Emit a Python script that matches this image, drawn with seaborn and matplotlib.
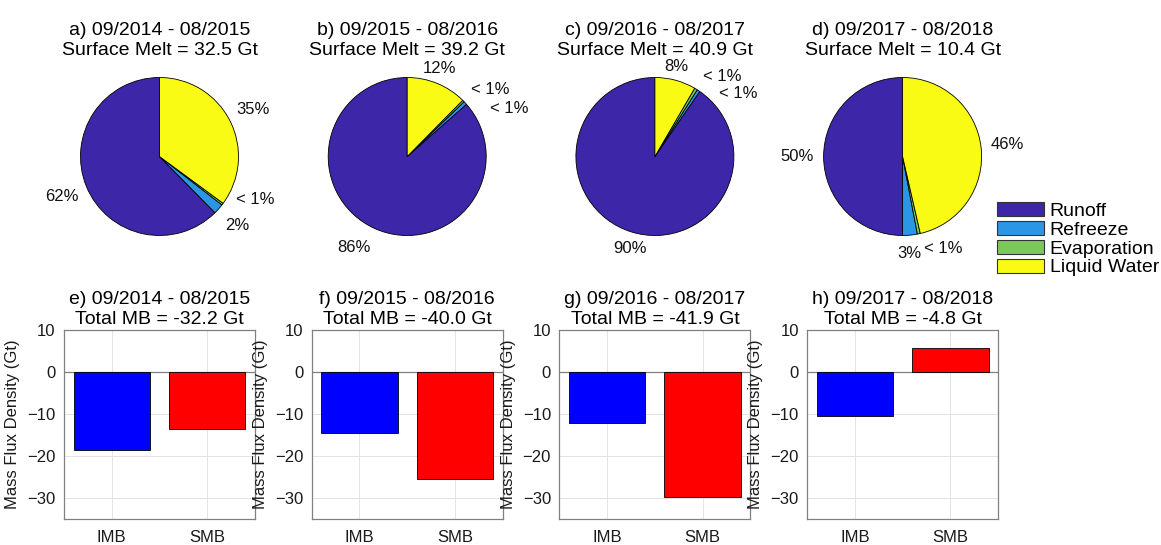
import numpy as np
import matplotlib
matplotlib.use("Agg")
import matplotlib.pyplot as plt
from matplotlib.patches import Patch
import seaborn as sns
import pandas as pd

# ---------------- data ----------------
periods = ["09/2014 - 08/2015", "09/2015 - 08/2016", "09/2016 - 08/2017", "09/2017 - 08/2018"]
pie_letters = ["a", "b", "c", "d"]
bar_letters = ["e", "f", "g", "h"]
surface_melt = [32.5, 39.2, 40.9, 10.4]
total_mb = [-32.2, -40.0, -41.9, -4.8]

components = ["Runoff", "Refreeze", "Evaporation", "Liquid Water"]
runoff_pct = [62.4, 86.5, 90.4, 50.0]
refreeze_pct = [2.1, 0.7, 0.6, 3.0]
evaporation_pct = [0.4, 0.4, 0.6, 0.6]
liquid_pct = [35.1, 12.4, 8.4, 46.4]
pie_labels = [["62%", "2%", "< 1%", "35%"],
              ["86%", "< 1%", "< 1%", "12%"],
              ["90%", "< 1%", "< 1%", "8%"],
              ["50%", "3%", "< 1%", "46%"]]

mb_categories = ["IMB", "SMB"]
imb = [-18.6, -14.6, -12.2, -10.5]
smb = [-13.6, -25.4, -29.7, 5.7]

# ---------------- style ----------------
comp_colors = ["#3E26A8", "#2C96E6", "#7DC85A", "#F9FB15"]
bar_colors = ["#0000FF", "#FF0000"]
# label placement tweaks (angle shift in degrees, radius shift) per panel / slice
label_dang = [[0, 0, 13, 0], [-6, -17.7, -5.6, 2], [2, -19.5, -8.7, 2], [0, -1.4, 12, 0]]
label_dr = [[0, 0, 0, 0], [0.05, 0.10, 0.04, -0.07], [-0.04, 0, 0.03, -0.08], [0, 0, 0, 0]]

sns.set_style("white")
plt.rcParams["font.family"] = ["Liberation Sans", "DejaVu Sans"]
plt.rcParams["text.color"] = "black"

W, H = 1161, 545
fig = plt.figure(figsize=(W / 100, H / 100), dpi=100)

step = 247.7
bar_left0 = 64
bar_w = 191
bar_top, bar_bot = 330, 519
pie_cy = 156.5
pie_r = 79
half = 120  # half size of pie axes in px

for i in range(4):
    left = bar_left0 + i * step
    cx = left + bar_w / 2

    # ---------- pie ----------
    lim = half / pie_r
    pax = fig.add_axes([(cx - half) / W, (H - pie_cy - half) / H, 2 * half / W, 2 * half / H])
    vals = [runoff_pct[i], refreeze_pct[i], evaporation_pct[i], liquid_pct[i]]
    wedges, _ = pax.pie(vals, colors=comp_colors, startangle=90, counterclock=True,
                        wedgeprops=dict(edgecolor="black", linewidth=0.6))
    pax.set_xlim(-lim, lim)
    pax.set_ylim(-lim, lim)
    pax.set_aspect("equal")
    pax.axis("off")
    for j, w in enumerate(wedges):
        ang = (w.theta1 + w.theta2) / 2 + label_dang[i][j]
        a = np.deg2rad(ang)
        r = 1.22 + 0.12 * abs(np.cos(a)) + label_dr[i][j]
        pax.text(r * np.cos(a), r * np.sin(a), pie_labels[i][j], ha="center", va="center",
                 fontsize=12, color="#111111")
    fig.text(cx / W, 1 - 59 / H,
             f"{pie_letters[i]}) {periods[i]}\nSurface Melt = {surface_melt[i]:.1f} Gt",
             ha="center", va="bottom", fontsize=14, linespacing=1.2, color="black")

    # ---------- bars ----------
    bax = fig.add_axes([left / W, (H - bar_bot) / H, bar_w / W, (bar_bot - bar_top) / H])
    df = pd.DataFrame({"cat": mb_categories, "val": [imb[i], smb[i]]})
    sns.barplot(data=df, x="cat", y="val", hue="cat", palette=bar_colors, legend=False,
                width=0.8, saturation=1, edgecolor="black", linewidth=0.6, ax=bax, zorder=3)
    bax.axhline(0, color="#808080", linewidth=0.9, zorder=2)
    bax.set_xlim(-0.5, 1.5)
    bax.set_ylim(-35, 10)
    bax.set_yticks([-30, -20, -10, 0, 10])
    bax.grid(True, color="#e3e3e3", linewidth=0.7)
    bax.set_axisbelow(True)
    for sp in bax.spines.values():
        sp.set_visible(True)
        sp.set_color("#808080")
        sp.set_linewidth(0.9)
    bax.tick_params(axis="both", direction="in", length=3, color="#808080",
                    labelsize=12, labelcolor="#1a1a1a")
    bax.tick_params(axis="y", pad=6)
    bax.tick_params(axis="x", pad=8)
    bax.set_xlabel("")
    bax.set_ylabel("Mass Flux Density (Gt)", fontsize=12, labelpad=5, color="#1a1a1a")
    fig.text(cx / W, 1 - 328 / H,
             f"{bar_letters[i]}) {periods[i]}\nTotal MB = {total_mb[i]:.1f} Gt",
             ha="center", va="bottom", fontsize=14, linespacing=1.2, color="black")

handles = [Patch(facecolor=c, edgecolor="#333333", linewidth=0.8, label=l)
           for c, l in zip(comp_colors, components)]
fig.legend(handles=handles, loc="upper left", bbox_to_anchor=(997 / W, 1 - 202 / H),
           frameon=False, fontsize=14, handlelength=2.4, handleheight=0.72,
           handletextpad=0.3, labelspacing=0.06, borderpad=0, borderaxespad=0,
           labelcolor="black")

fig.savefig("out.png", dpi=100, facecolor="white")
